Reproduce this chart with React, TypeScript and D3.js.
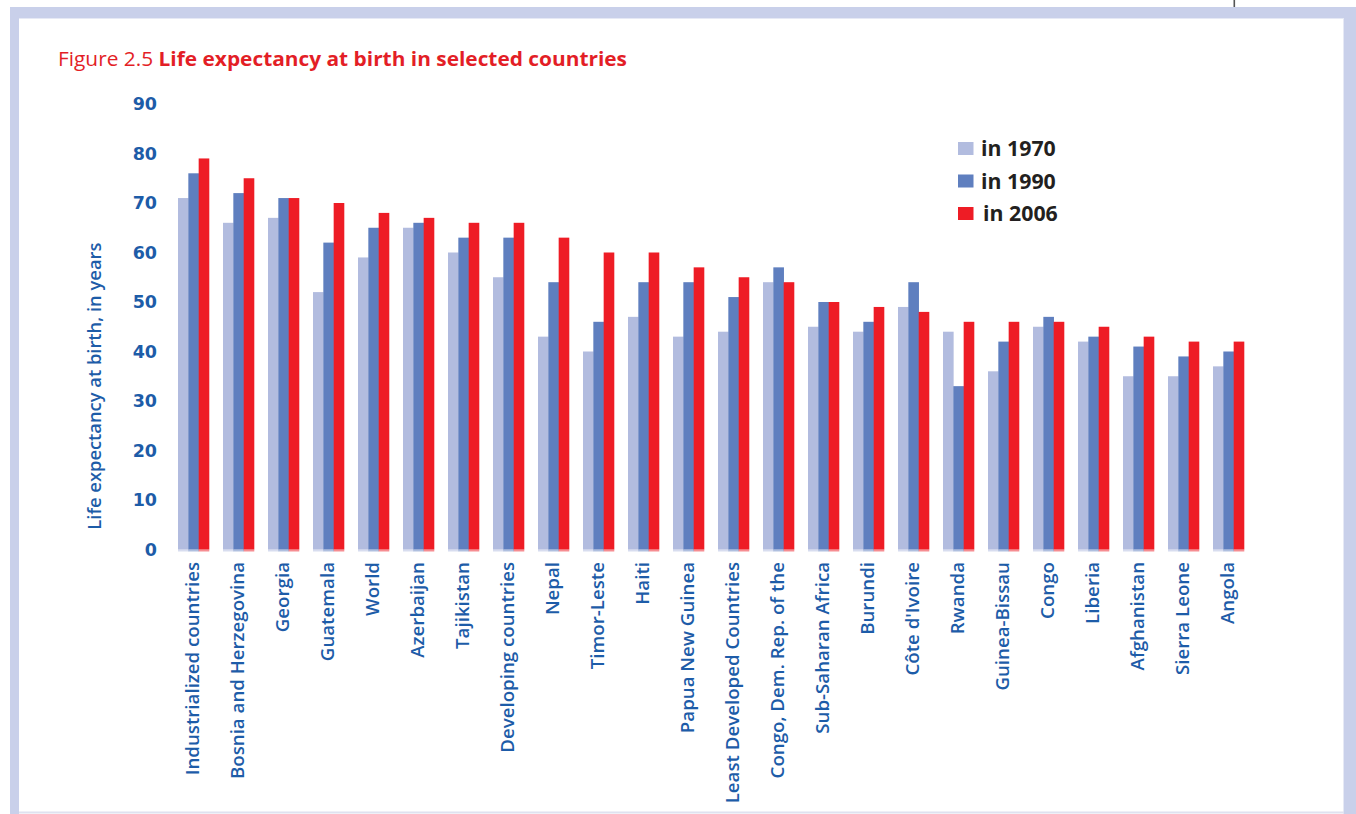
import React from "react";
import * as d3 from "d3";

// Life expectancy at birth (years) for selected countries and groups
const categories = [
  "Industrialized countries",
  "Bosnia and Herzegovina",
  "Georgia",
  "Guatemala",
  "World",
  "Azerbaijan",
  "Tajikistan",
  "Developing countries",
  "Nepal",
  "Timor-Leste",
  "Haiti",
  "Papua New Guinea",
  "Least Developed Countries",
  "Congo, Dem. Rep. of the",
  "Sub-Saharan Africa",
  "Burundi",
  "Côte d'Ivoire",
  "Rwanda",
  "Guinea-Bissau",
  "Congo",
  "Liberia",
  "Afghanistan",
  "Sierra Leone",
  "Angola",
];

const values1970 = [71, 66, 67, 52, 59, 65, 60, 55, 43, 40, 47, 43, 44, 54, 45, 44, 49, 44, 36, 45, 42, 35, 35, 37];
const values1990 = [76, 72, 71, 62, 65, 66, 63, 63, 54, 46, 54, 54, 51, 57, 50, 46, 54, 33, 42, 47, 43, 41, 39, 40];
const values2006 = [79, 75, 71, 70, 68, 67, 66, 66, 63, 60, 60, 57, 55, 54, 50, 49, 48, 46, 46, 46, 45, 43, 42, 42];

const seriesKeys = ["y1970", "y1990", "y2006"];
const seriesLabels = ["in 1970", "in 1990", "in 2006"];
const seriesColors = ["#b2bcdf", "#5f7fbf", "#ee1c25"];

const yTicks = [0, 10, 20, 30, 40, 50, 60, 70, 80, 90];

const W = 1356;
const H = 814;
const FRAME = "#c9d0ea";
const AXIS_BLUE = "#1d5ca8";

export default function App() {
  const rows = categories.map((name, i) => ({
    name,
    y1970: values1970[i],
    y1990: values1990[i],
    y2006: values2006[i],
  }));

  const x0 = d3
    .scaleBand<string>()
    .domain(categories)
    .range([178, 1244])
    .paddingInner(14 / 45)
    .paddingOuter(0);

  const x1 = d3
    .scaleBand<string>()
    .domain(seriesKeys)
    .range([0, x0.bandwidth()])
    .padding(0);

  const y = d3.scaleLinear().domain([0, 90]).range([549.5, 104]);

  const color = d3.scaleOrdinal<string, string>().domain(seriesKeys).range(seriesColors);

  const legendY = d3.scalePoint<string>().domain(seriesKeys).range([148.5, 213.5]);

  return (
    <svg
      width={W}
      height={H}
      viewBox={`0 0 ${W} ${H}`}
      style={{ position: "absolute", left: 0, top: 0, background: "#fff" }}
    >
      <rect x={0} y={0} width={W} height={H} fill="#fff" />

      {/* page frame */}
      <rect x={1233.5} y={0} width={1.6} height={7} fill="#555" />
      <rect x={10} y={7} width={W - 10} height={11} fill={FRAME} />
      <rect x={10} y={7} width={9} height={H - 7} fill={FRAME} />
      <rect x={1344} y={7} width={12} height={H - 7} fill={FRAME} />
      <rect x={19} y={18} width={1325} height={1} fill="#e6e9f5" />
      <rect x={1343} y={18} width={1} height={H - 18} fill="#e6e9f5" />
      <rect x={19} y={811.5} width={1325} height={2} fill="#dfe2f0" />

      {/* title */}
      <text
        x={58}
        y={65.5}
        fontFamily="'Open Sans', sans-serif"
        fontSize={19.5}
        fill="#e31e26"
        textLength={569}
        lengthAdjust="spacingAndGlyphs"
      >
        <tspan>Figure 2.5 </tspan>
        <tspan fontWeight={700}>Life expectancy at birth in selected countries</tspan>
      </text>

      {/* y axis tick labels */}
      {yTicks.map((t) => (
        <text
          key={t}
          x={157}
          y={y(t)}
          dy="0.36em"
          textAnchor="end"
          fontFamily="'DejaVu Sans', sans-serif"
          fontWeight={700}
          fontSize={17.5}
          fill={AXIS_BLUE}
        >
          {t}
        </text>
      ))}

      {/* y axis title */}
      <text
        transform={`translate(94.5, ${y(33)}) rotate(-90)`}
        textAnchor="middle"
        dy="0.35em"
        fontFamily="'Open Sans', sans-serif"
        fontWeight={600}
        fontSize={18.5}
        fill={AXIS_BLUE}
        textLength={287}
        lengthAdjust="spacingAndGlyphs"
      >
        Life expectancy at birth, in years
      </text>

      {/* bars */}
      {rows.map((r) => (
        <g key={r.name} transform={`translate(${x0(r.name)},0)`}>
          {seriesKeys.map((k) => {
            const v = (r as any)[k] as number;
            return (
              <g key={k}>
                <rect
                  x={x1(k)}
                  y={y(v)}
                  width={x1.bandwidth() + 0.3}
                  height={y(0) - y(v)}
                  fill={color(k)}
                />
                <rect
                  x={x1(k)}
                  y={y(0)}
                  width={x1.bandwidth() + 0.3}
                  height={2}
                  fill={color(k)}
                  opacity={0.5}
                />
              </g>
            );
          })}
        </g>
      ))}

      {/* category labels */}
      {categories.map((c) => (
        <text
          key={c}
          transform={`translate(${(x0(c) as number) + x0.bandwidth() / 2 - 1}, 562) rotate(-90)`}
          textAnchor="end"
          dy="0.36em"
          fontFamily="'Open Sans', sans-serif"
          fontWeight={600}
          fontSize={18.7}
          fill={AXIS_BLUE}
        >
          {c}
        </text>
      ))}

      {/* legend */}
      {seriesKeys.map((k, i) => (
        <g key={k} transform={`translate(958, ${legendY(k)})`}>
          <rect x={0} y={-6.5} width={15.5} height={13} fill={color(k)} />
          <text
            x={i === 2 ? 25 : 23}
            y={0}
            dy="0.36em"
            fontFamily="'Open Sans', sans-serif"
            fontWeight={700}
            fontSize={21.3}
            fill="#231f20"
          >
            {seriesLabels[i]}
          </text>
        </g>
      ))}
    </svg>
  );
}
